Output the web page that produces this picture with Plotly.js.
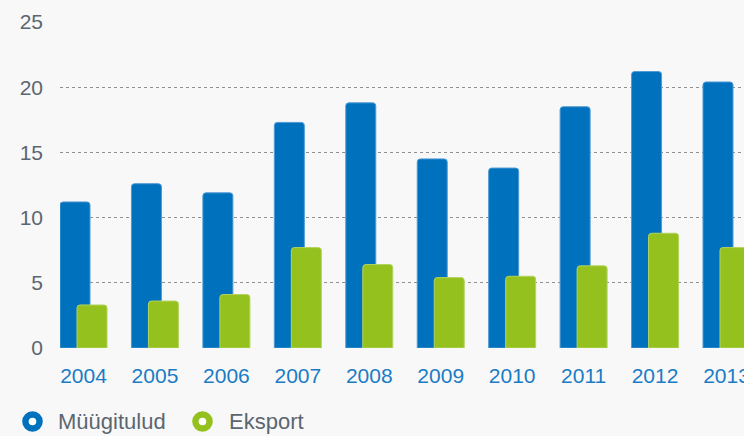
<!DOCTYPE html>
<html>
<head>
<meta charset="utf-8">
<script src="https://cdn.plot.ly/plotly-3.0.1.min.js"></script>
<style>
  html, body { margin: 0; padding: 0; background: #f8f8f9; }
  #chart { width: 744px; height: 436px; }
</style>
</head>
<body>
<div id="chart"></div>
<script>
// Data
const years = ['2004', '2005', '2006', '2007', '2008', '2009', '2010', '2011', '2012', '2013'];
const myygitulud = [11.2, 12.6, 11.9, 17.3, 18.8, 14.5, 13.8, 18.5, 21.2, 20.4];
const eksport = [3.3, 3.6, 4.1, 7.7, 6.4, 5.4, 5.5, 6.3, 8.8, 7.7];
const seriesNames = ['Müügitulud', 'Eksport'];
const yTicks = [0, 5, 10, 15, 20, 25];

const blue = '#0071bc';
const green = '#95c11f';

const traces = [
  {
    type: 'bar', name: seriesNames[0], x: years, y: myygitulud,
    width: 0.42, offset: -0.329,
    marker: { color: blue, line: { color: '#4f9ad6', width: 1 }, cornerradius: 3 },
    hoverinfo: 'x+y', showlegend: false
  },
  {
    type: 'bar', name: seriesNames[1], x: years, y: eksport,
    width: 0.42, offset: -0.091,
    marker: { color: green, line: { color: '#b3d35f', width: 1 }, cornerradius: 3 },
    hoverinfo: 'x+y', showlegend: false
  }
];

// plot area geometry helpers (for legend placement in paper coords)
const L = 60, T = 22, W = 684, H = 326;
const px = (x) => (x - L) / W;
const py = (y) => (T + H - y) / H;

const legendItems = [
  { name: seriesNames[0], color: blue, cx: 32.5, tx: 56 },
  { name: seriesNames[1], color: green, cx: 202.5, tx: 227 }
];
const legendY = 421.5;

function disc(cx, r, color) {
  return {
    type: 'circle', xref: 'paper', yref: 'paper',
    xsizemode: 'pixel', ysizemode: 'pixel',
    xanchor: px(cx), yanchor: py(legendY),
    x0: -r, x1: r, y0: -r, y1: r,
    fillcolor: color, line: { width: 0 }
  };
}
const shapes = [];
legendItems.forEach(it => {
  shapes.push(disc(it.cx, 10.3, it.color));
  shapes.push(disc(it.cx, 3.8, '#ffffff'));
});

const annotations = legendItems.map(it => ({
  xref: 'paper', yref: 'paper', x: px(it.tx), y: py(legendY),
  xanchor: 'left', yanchor: 'middle', showarrow: false,
  text: it.name, font: { family: 'Liberation Sans, Arial, sans-serif', size: 22, color: '#5b6670' }
}));

const layout = {
  width: 744, height: 436,
  margin: { l: L, r: 0, t: T, b: 436 - T - H, pad: 0 },
  paper_bgcolor: '#f8f8f9',
  plot_bgcolor: 'rgba(0,0,0,0)',
  barmode: 'overlay',
  showlegend: false,
  font: { family: 'Liberation Sans, Arial, sans-serif' },
  xaxis: {
    type: 'category',
    range: [-0.329, 9.245],
    showgrid: false, zeroline: false, showline: false,
    ticks: '', ticklabelstandoff: 13,
    tickfont: { size: 21, color: '#1a7cc4' }
  },
  yaxis: {
    range: [0, 25],
    tickvals: yTicks,
    showgrid: true, gridcolor: '#909090', gridwidth: 1, griddash: 'dot',
    zeroline: false, showline: false,
    ticks: '', ticklabelstandoff: 16,
    tickfont: { size: 21, color: '#5b6670' }
  },
  shapes: shapes,
  annotations: annotations
};

Plotly.newPlot('chart', traces, layout, { displayModeBar: false, staticPlot: true });
</script>
</body>
</html>
